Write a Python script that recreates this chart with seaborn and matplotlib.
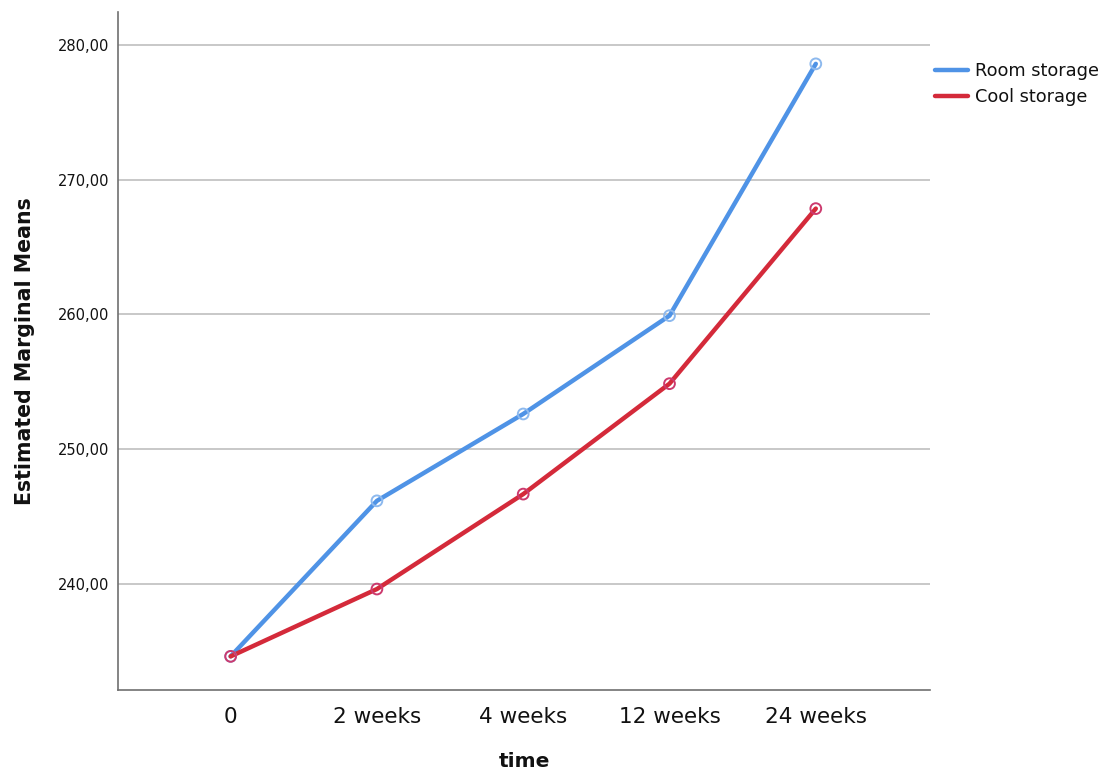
import matplotlib
matplotlib.use("Agg")
import matplotlib.pyplot as plt
import numpy as np
import pandas as pd
import seaborn as sns
from matplotlib.ticker import FuncFormatter

# values
time_labels = ["0", "2 weeks", "4 weeks", "12 weeks", "24 weeks"]
room_storage = [234.6, 246.15, 252.6, 259.9, 278.6]
cool_storage = [234.6, 239.6, 246.65, 254.85, 267.85]
series_names = ["Room storage", "Cool storage"]

line_colors = {"Room storage": "#4F93E6", "Cool storage": "#D42A3A"}
marker_colors = {"Room storage": "#8DB9EE", "Cool storage": "#CC3A6E"}

df = pd.DataFrame({
    "pos": list(range(len(time_labels))) * 2,
    "mean": room_storage + cool_storage,
    "storage": [series_names[0]] * len(time_labels) + [series_names[1]] * len(time_labels),
})

sns.set_theme(style="white")
plt.rcParams["font.family"] = ["DejaVu Sans"]
plt.rcParams["text.color"] = "#111111"
plt.rcParams["axes.labelcolor"] = "#111111"
plt.rcParams["xtick.color"] = "#111111"
plt.rcParams["ytick.color"] = "#111111"

fig = plt.figure(figsize=(11.11, 7.79), dpi=100)
ax = fig.add_axes([0.1062, 0.1142, 0.7308, 0.8704])

sns.lineplot(data=df, x="pos", y="mean", hue="storage", hue_order=series_names,
             palette=line_colors, lw=3.2, ax=ax, zorder=3)
for name in series_names:
    sub = df[df["storage"] == name]
    ax.scatter(sub["pos"], sub["mean"], s=60, facecolors="none",
               edgecolors=marker_colors[name], linewidths=1.4, zorder=4)

ax.set_xlim(-0.77, 4.78)
ax.set_ylim(232.1, 282.45)
ax.set_xticks(range(len(time_labels)))
ax.set_xticklabels(time_labels, fontsize=15.5)
ax.set_yticks([240, 250, 260, 270, 280])
ax.yaxis.set_major_formatter(FuncFormatter(lambda v, p: f"{v:.2f}".replace(".", ",")))
ax.tick_params(axis="y", labelsize=10.5, length=0, pad=6)
ax.tick_params(axis="x", length=0, pad=12)
ax.yaxis.grid(True, color="#C8C8C8", lw=1.4)
ax.set_axisbelow(True)

for side in ["top", "right"]:
    ax.spines[side].set_visible(False)
for side in ["left", "bottom"]:
    ax.spines[side].set_color("#707070")
    ax.spines[side].set_linewidth(1.2)

ax.set_xlabel("time", fontsize=14.5, fontweight="bold", labelpad=18)
ax.set_ylabel("Estimated Marginal Means", fontsize=14.8, fontweight="bold", labelpad=17)

handles, labels = ax.get_legend_handles_labels()
ax.legend(handles, labels, loc="upper left", bbox_to_anchor=(0.8355, 0.929),
          bbox_transform=fig.transFigure, frameon=False, fontsize=12.8,
          handlelength=1.85, handletextpad=0.4, labelspacing=0.42, borderaxespad=0)

fig.savefig("out.png", dpi=100)
